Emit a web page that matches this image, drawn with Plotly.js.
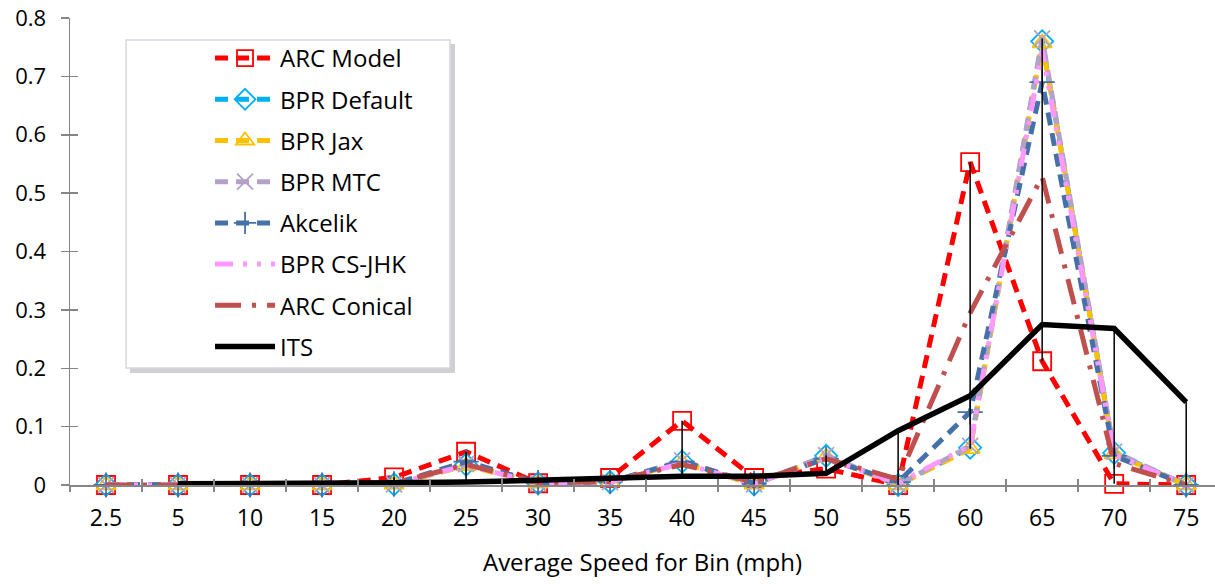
<!DOCTYPE html>
<html>
<head>
<meta charset="utf-8">
<script src="https://cdn.plot.ly/plotly-3.0.1.min.js"></script>
<style>html,body{margin:0;padding:0;background:#fff;}#chart{width:1215px;height:584px;}</style>
</head>
<body>
<div id="chart"></div>
<script>
const categories = ['2.5','5','10','15','20','25','30','35','40','45','50','55','60','65','70','75'];
const arcModel   = [0,0,0,0,0.013,0.057,0.003,0.012,0.110,0.012,0.028,0,0.553,0.212,0.002,0];
const bprDefault = [0,0,0,0,0.001,0.035,0.003,0.005,0.040,0.001,0.050,0,0.064,0.760,0.055,0];
const bprJax     = [0,0,0,0,0.001,0.033,0.003,0.005,0.038,0.001,0.048,0,0.062,0.757,0.053,0];
const bprMTC     = [0,0,0,0,0.001,0.036,0.003,0.005,0.042,0.001,0.051,0,0.067,0.765,0.057,0];
const akcelik    = [0,0,0,0,0.002,0.040,0.004,0.006,0.040,0.003,0.045,0.005,0.125,0.690,0.050,0];
const bprCSJHK   = [0,0,0,0,0.001,0.034,0.003,0.005,0.037,0.002,0.046,0.003,0.068,0.745,0.052,0];
const arcConical = [0,0,0,0,0.003,0.035,0.004,0.006,0.035,0.005,0.045,0.010,0.295,0.528,0.037,0];
const its        = [null,0.002,0.002,0.003,0.004,0.005,0.008,0.012,0.015,0.015,0.020,0.093,0.153,0.275,0.268,0.142];
const seriesNames = ['ARC Model','BPR Default','BPR Jax','BPR MTC','Akcelik','BPR CS-JHK','ARC Conical','ITS'];
const yTickVals = [0,0.1,0.2,0.3,0.4,0.5,0.6,0.7,0.8];
const xTitle = 'Average Speed for Bin (mph)';

const FONT = 'Open Sans, Liberation Sans, sans-serif';
const allSeries = [arcModel,bprDefault,bprJax,bprMTC,akcelik,bprCSJHK,arcConical,its];
const styles = [
  {color:'#FF0000', dash:'13px,8px', width:5, symbol:'square-open', msize:18},
  {color:'#00B0F0', dash:'13px,8px', width:5, symbol:'diamond-open', msize:17},
  {color:'#FFC000', dash:'13px,8px', width:5, symbol:'triangle-up-open', msize:17},
  {color:'#B3A2C7', dash:'13px,8px', width:5, symbol:'x-thin-open', msize:16},
  {color:'#4571A8', dash:'13px,8px', width:5, symbol:'cross-thin-open', msize:18},
  {color:'#FF99FF', dash:'18px,10px,4px,10px,4px,10px', width:5, symbol:null},
  {color:'#C0504D', dash:'26px,11px,4px,11px', width:5, symbol:null},
  {color:'#000000', dash:'solid', width:5.5, symbol:null}
];

const traces = allSeries.map((vals, i) => {
  const s = styles[i];
  const t = {
    type:'scatter', x:categories, y:vals, name:seriesNames[i],
    mode: s.symbol ? 'lines+markers' : 'lines',
    line:{color:s.color, width:s.width, dash:s.dash},
    legendgroup:'g'+i, cliponaxis:false, connectgaps:false
  };
  if (s.symbol) t.marker = {symbol:s.symbol, size:s.msize, color:s.color, line:{color:s.color, width:1.8}};
  return t;
});

// high-low lines computed from the series
const hlX = [], hlY = [];
categories.forEach((c, j) => {
  const v = allSeries.map(a => a[j]).filter(x => x !== null && x !== undefined);
  hlX.push(c, c, null);
  hlY.push(Math.max(...v), Math.min(...v), null);
});
traces.push({type:'scatter', x:hlX, y:hlY, mode:'lines', line:{color:'#000', width:1.5},
  showlegend:false, hoverinfo:'skip', cliponaxis:false});
// helper trace for the overlay tick axes
traces.push({type:'scatter', x:[null], y:[null], xaxis:'x2', yaxis:'y2', showlegend:false, hoverinfo:'skip'});

const layout = {
  width:1215, height:584,
  margin:{l:70, r:0, t:18, b:99},
  paper_bgcolor:'#fff', plot_bgcolor:'#fff',
  font:{family:FONT, size:22, color:'#000'},
  showlegend:true,
  xaxis:{type:'category', categoryorder:'array', categoryarray:categories,
    range:[-0.5, 15.4], showgrid:false, zeroline:false,
    showline:false, ticks:'outside', tickson:'boundaries', ticklen:6, tickwidth:1.5, tickcolor:'#868686',
    tickfont:{family:FONT, size:23, color:'#000'}, ticklabelstandoff:17,
    title:{text:xTitle, font:{family:FONT, size:24, color:'#000'}, standoff:22}},
  yaxis:{range:[0,0.8], tickvals:yTickVals, ticktext:yTickVals.map(v => String(v)),
    showgrid:false, zeroline:false, showline:true, linecolor:'#868686', linewidth:1.5,
    ticks:'outside', ticklen:8, tickwidth:1.5, tickcolor:'#868686',
    tickfont:{family:FONT, size:22, color:'#000'}, ticklabelstandoff:10},
  xaxis2:{overlaying:'x', anchor:'y', range:[-0.5,15.4], tick0:-0.5, dtick:1,
    ticks:'inside', ticklen:6, tickwidth:1.5, tickcolor:'#868686', showticklabels:false,
    showgrid:false, zeroline:false, showline:true, linecolor:'#868686', linewidth:1.5},
  yaxis2:{overlaying:'y', anchor:'x', side:'left', range:[0,0.8], tick0:0, dtick:0.1,
    ticks:'inside', ticklen:8, tickwidth:1.5, tickcolor:'#868686', showticklabels:false,
    showgrid:false, zeroline:false, showline:false},
  legend:{x:0.1223, xanchor:'left', y:0.9615, yanchor:'top', bgcolor:'rgba(0,0,0,0)',
    borderwidth:0, font:{family:FONT, size:24, color:'#000'}, tracegroupgap:7,
    traceorder:'grouped', itemwidth:60},
  shapes:[
    {type:'rect', xref:'paper', yref:'paper', x0:(130-70)/1145, x1:(455-70)/1145,
      y0:(485-373)/467, y1:(485-44)/467, line:{width:0}, fillcolor:'rgba(120,120,120,0.35)', layer:'above'},
    {type:'rect', xref:'paper', yref:'paper', x0:(126-70)/1145, x1:(450-70)/1145,
      y0:(485-368)/467, y1:(485-40)/467, line:{color:'#D9D3E3', width:1.5}, fillcolor:'#FFFFFF', layer:'above'}
  ]
};

Plotly.newPlot('chart', traces, layout, {staticPlot:true, displayModeBar:false});
</script>
</body>
</html>
